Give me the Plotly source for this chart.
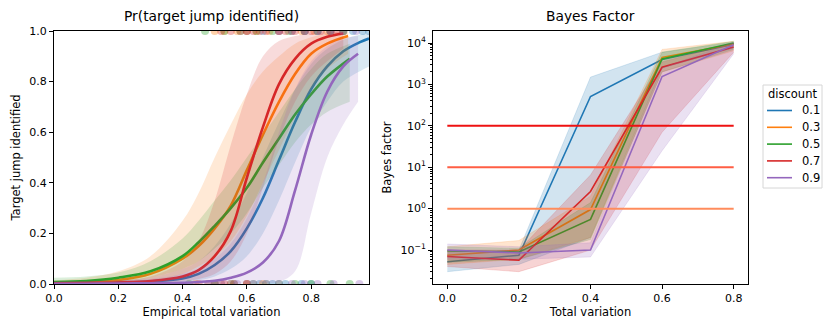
import plotly.graph_objects as go

# ---- data -------------------------------------------------------------
discounts = ["0.1", "0.3", "0.5", "0.7", "0.9"]
colors = ["#1f77b4", "#ff7f0e", "#2ca02c", "#d62728", "#9467bd"]

# left panel: fitted logistic curve + CI band per discount
fit_x_01 = [0, 0.1, 0.2, 0.3, 0.4, 0.45, 0.5, 0.55, 0.6, 0.65, 0.7, 0.75, 0.8, 0.85, 0.9, 0.95, 0.98]
fit_p_01 = [0.003, 0.004, 0.006, 0.01, 0.022, 0.04, 0.075, 0.13, 0.22, 0.34, 0.49, 0.64, 0.77, 0.86, 0.92, 0.955, 0.97]
fit_lo_01 = [0.0, 0.0, 0.001, 0.003, 0.008, 0.015, 0.03, 0.06, 0.11, 0.2, 0.33, 0.48, 0.62, 0.72, 0.8, 0.84, 0.86]
fit_hi_01 = [0.01, 0.012, 0.015, 0.025, 0.06, 0.09, 0.15, 0.24, 0.36, 0.5, 0.64, 0.77, 0.87, 0.93, 0.965, 0.985, 0.99]

fit_x_03 = [0, 0.1, 0.2, 0.3, 0.4, 0.45, 0.5, 0.55, 0.6, 0.65, 0.7, 0.75, 0.8, 0.85, 0.915]
fit_p_03 = [0.005, 0.008, 0.016, 0.04, 0.1, 0.15, 0.22, 0.31, 0.45, 0.59, 0.72, 0.83, 0.91, 0.95, 0.98]
fit_lo_03 = [0.001, 0.002, 0.004, 0.012, 0.04, 0.07, 0.11, 0.17, 0.27, 0.4, 0.53, 0.66, 0.77, 0.85, 0.91]
fit_hi_03 = [0.015, 0.025, 0.05, 0.11, 0.25, 0.36, 0.5, 0.63, 0.75, 0.84, 0.9, 0.95, 0.975, 0.99, 0.995]

fit_x_05 = [0, 0.1, 0.2, 0.3, 0.4, 0.45, 0.5, 0.55, 0.6, 0.65, 0.7, 0.75, 0.8, 0.85, 0.92]
fit_p_05 = [0.008, 0.012, 0.025, 0.05, 0.11, 0.165, 0.23, 0.3, 0.38, 0.48, 0.575, 0.67, 0.75, 0.82, 0.89]
fit_lo_05 = [0.002, 0.004, 0.01, 0.025, 0.06, 0.09, 0.14, 0.2, 0.28, 0.38, 0.47, 0.56, 0.63, 0.68, 0.72]
fit_hi_05 = [0.025, 0.03, 0.045, 0.09, 0.18, 0.25, 0.33, 0.41, 0.5, 0.59, 0.68, 0.77, 0.85, 0.91, 0.95]

fit_x_07 = [0, 0.1, 0.2, 0.3, 0.4, 0.45, 0.5, 0.55, 0.6, 0.65, 0.7, 0.75, 0.8, 0.85, 0.9]
fit_p_07 = [0.003, 0.004, 0.006, 0.012, 0.03, 0.055, 0.11, 0.21, 0.42, 0.62, 0.79, 0.89, 0.95, 0.977, 0.99]
fit_lo_07 = [0.0, 0.0, 0.001, 0.003, 0.01, 0.02, 0.04, 0.09, 0.2, 0.38, 0.57, 0.72, 0.82, 0.88, 0.93]
fit_hi_07 = [0.01, 0.012, 0.015, 0.03, 0.09, 0.17, 0.33, 0.55, 0.75, 0.9, 0.96, 0.98, 0.99, 0.995, 0.998]

fit_x_09 = [0, 0.1, 0.2, 0.3, 0.4, 0.45, 0.5, 0.55, 0.6, 0.65, 0.7, 0.75, 0.8, 0.85, 0.9, 0.946]
fit_p_09 = [0.001, 0.001, 0.002, 0.003, 0.005, 0.008, 0.013, 0.025, 0.045, 0.085, 0.17, 0.37, 0.59, 0.76, 0.86, 0.91]
fit_lo_09 = [0.0, 0.0, 0.0, 0.0, 0.0, 0.0, 0.001, 0.002, 0.003, 0.004, 0.008, 0.05, 0.28, 0.5, 0.63, 0.72]
fit_hi_09 = [0.01, 0.012, 0.015, 0.02, 0.04, 0.06, 0.1, 0.16, 0.26, 0.4, 0.6, 0.77, 0.88, 0.94, 0.97, 0.98]

# observed outcomes (identified = 1, missed = 0), empirical TV of each trial
hit_x_01 = [0.6, 0.65, 0.7, 0.74, 0.78, 0.82, 0.86, 0.9, 0.93, 0.96, 0.98]
miss_x_01 = [0.5, 0.55, 0.6, 0.64, 0.68, 0.72, 0.77, 0.8]
hit_x_03 = [0.5, 0.53, 0.57, 0.6, 0.63, 0.67, 0.7, 0.74, 0.77, 0.81, 0.85, 0.9]
miss_x_03 = [0.44, 0.48, 0.52, 0.55, 0.6, 0.65]
hit_x_05 = [0.47, 0.53, 0.58, 0.63, 0.68, 0.73, 0.78, 0.82, 0.86, 0.9]
miss_x_05 = [0.42, 0.5, 0.56, 0.62, 0.66, 0.7, 0.75, 0.8, 0.86, 0.92]
hit_x_07 = [0.52, 0.55, 0.58, 0.6, 0.62, 0.64, 0.66, 0.7, 0.72, 0.75, 0.78, 0.8, 0.83, 0.86, 0.88]
miss_x_07 = [0.45, 0.5, 0.53, 0.56, 0.6]
hit_x_09 = [0.7, 0.74, 0.78, 0.82, 0.86, 0.9, 0.94]
miss_x_09 = [0.48, 0.52, 0.57, 0.62, 0.66, 0.7, 0.74, 0.78, 0.82, 0.87, 0.95]

# right panel: Bayes factor vs total variation
tv = [0.0, 0.2, 0.4, 0.6, 0.8]
bf_01 = [0.052, 0.075, 510, 4000, 9300]
bf_lo_01 = [0.03, 0.045, 0.2, 2500, 7500]
bf_hi_01 = [0.09, 0.1, 1500, 6000, 10500]
bf_03 = [0.075, 0.1, 0.95, 4500, 9500]
bf_lo_03 = [0.045, 0.06, 0.2, 2000, 6500]
bf_hi_03 = [0.12, 0.17, 2.0, 7000, 11000]
bf_05 = [0.095, 0.09, 0.55, 4100, 10000]
bf_lo_05 = [0.05, 0.06, 0.18, 2000, 7000]
bf_hi_05 = [0.12, 0.11, 1.4, 6000, 11000]
bf_07 = [0.07, 0.057, 2.6, 2600, 8000]
bf_lo_07 = [0.04, 0.03, 0.1, 70, 6000]
bf_hi_07 = [0.1, 0.1, 6.5, 3500, 10000]
bf_09 = [0.1, 0.085, 0.1, 1550, 9100]
bf_lo_09 = [0.06, 0.06, 0.068, 25, 5500]
bf_hi_09 = [0.14, 0.12, 0.15, 2500, 10500]

thresholds = [1, 10, 100]
threshold_colors = ["#ff8c5c", "#ff5e44", "#ee1111"]

fits = [
    (fit_x_01, fit_p_01, fit_lo_01, fit_hi_01, hit_x_01, miss_x_01),
    (fit_x_03, fit_p_03, fit_lo_03, fit_hi_03, hit_x_03, miss_x_03),
    (fit_x_05, fit_p_05, fit_lo_05, fit_hi_05, hit_x_05, miss_x_05),
    (fit_x_07, fit_p_07, fit_lo_07, fit_hi_07, hit_x_07, miss_x_07),
    (fit_x_09, fit_p_09, fit_lo_09, fit_hi_09, hit_x_09, miss_x_09),
]
bfs = [
    (bf_01, bf_lo_01, bf_hi_01),
    (bf_03, bf_lo_03, bf_hi_03),
    (bf_05, bf_lo_05, bf_hi_05),
    (bf_07, bf_lo_07, bf_hi_07),
    (bf_09, bf_lo_09, bf_hi_09),
]


def rgba(hex_color, a):
    h = hex_color.lstrip("#")
    r, g, b = int(h[0:2], 16), int(h[2:4], 16), int(h[4:6], 16)
    return f"rgba({r},{g},{b},{a})"


fig = go.Figure()

# ---- left panel -------------------------------------------------------
for (fx, fp, flo, fhi, hx, mx), c in zip(fits, colors):
    pts_x = hx + mx
    pts_y = [1] * len(hx) + [0] * len(mx)
    fig.add_trace(go.Scatter(
        x=pts_x, y=pts_y, mode="markers", xaxis="x", yaxis="y",
        marker=dict(size=8, color=rgba(c, 0.35), line=dict(width=0)),
        showlegend=False, hoverinfo="skip"))
    fig.add_trace(go.Scatter(
        x=fx, y=flo, mode="lines", xaxis="x", yaxis="y",
        line=dict(width=0, shape="spline", color=rgba(c, 0)),
        showlegend=False, hoverinfo="skip"))
    fig.add_trace(go.Scatter(
        x=fx, y=fhi, mode="lines", xaxis="x", yaxis="y", fill="tonexty",
        fillcolor=rgba(c, 0.17),
        line=dict(width=0, shape="spline", color=rgba(c, 0)),
        showlegend=False, hoverinfo="skip"))
    fig.add_trace(go.Scatter(
        x=fx, y=fp, mode="lines", xaxis="x", yaxis="y",
        line=dict(width=2.6, shape="spline", color=c),
        showlegend=False))

# ---- right panel ------------------------------------------------------
for (bf, lo, hi), c, name in zip(bfs, colors, discounts):
    fig.add_trace(go.Scatter(
        x=tv, y=lo, mode="lines", xaxis="x2", yaxis="y2",
        line=dict(width=0.6, color=rgba(c, 0.25)),
        showlegend=False, hoverinfo="skip"))
    fig.add_trace(go.Scatter(
        x=tv, y=hi, mode="lines", xaxis="x2", yaxis="y2", fill="tonexty",
        fillcolor=rgba(c, 0.2), line=dict(width=0.6, color=rgba(c, 0.25)),
        showlegend=False, hoverinfo="skip"))
    fig.add_trace(go.Scatter(
        x=tv, y=bf, mode="lines", xaxis="x2", yaxis="y2", name=name,
        line=dict(width=1.6, color=c), showlegend=False))

for t, c in zip(thresholds, threshold_colors):
    fig.add_trace(go.Scatter(
        x=[tv[0], tv[-1]], y=[t, t], mode="lines", xaxis="x2", yaxis="y2",
        line=dict(width=2, color=c), showlegend=False, hoverinfo="skip"))

# ---- layout -----------------------------------------------------------
W, H = 830, 332
TICK, LABEL, TITLE = 11, 11.5, 13.8
font = dict(family="DejaVu Sans", size=TICK, color="black")
axis_common = dict(
    showline=True, linecolor="black", linewidth=0.9, mirror=True,
    ticks="outside", ticklen=4, tickcolor="black", tickwidth=0.9,
    showgrid=False, zeroline=False, tickfont=dict(size=TICK),
    title_font=dict(size=LABEL), automargin=False)

log_ticks = [0.1, 1, 10, 100, 1000, 10000]
log_text = ["10<sup>−1</sup>", "10<sup>0</sup>", "10<sup>1</sup>",
            "10<sup>2</sup>", "10<sup>3</sup>", "10<sup>4</sup>"]
minor_log_ticks = [m * d for d in [0.01, 0.1, 1, 10, 100, 1000]
                   for m in range(2, 10)]
lin_ticks = [0, 0.2, 0.4, 0.6, 0.8]
lin_text = ["0.0", "0.2", "0.4", "0.6", "0.8"]

# hand-built legend (matplotlib style box on the right)
shapes = [dict(type="rect", xref="paper", yref="paper",
               x0=763 / W, x1=822 / W, y0=1 - 188 / H, y1=1 - 85 / H,
               line=dict(color="#d6d6d6", width=1), fillcolor="white")]
annotations = [dict(text="discount", x=792.5 / W, y=1 - 94 / H,
                    xref="paper", yref="paper", showarrow=False,
                    font=dict(size=LABEL), xanchor="center", yanchor="middle")]
for i, (name, c) in enumerate(zip(discounts, colors)):
    yy = 1 - (110.5 + 16.8 * i) / H
    shapes.append(dict(type="line", xref="paper", yref="paper",
                       x0=767 / W, x1=792 / W, y0=yy, y1=yy,
                       line=dict(color=c, width=1.6)))
    annotations.append(dict(text=name, x=800 / W, y=yy, xref="paper",
                            yref="paper", showarrow=False,
                            font=dict(size=LABEL), xanchor="left",
                            yanchor="middle"))

annotations += [
    dict(text="Pr(target jump identified)", x=(54 + 369) / 2 / W,
         y=1 - 16 / H, xref="paper", yref="paper", showarrow=False,
         font=dict(size=TITLE), xanchor="center", yanchor="middle"),
    dict(text="Bayes Factor", x=(433 + 748) / 2 / W, y=1 - 16 / H,
         xref="paper", yref="paper", showarrow=False,
         font=dict(size=TITLE), xanchor="center", yanchor="middle"),
]

fig.update_layout(
    width=W, height=H, margin=dict(l=0, r=0, t=0, b=0),
    paper_bgcolor="white", plot_bgcolor="white", font=font,
    showlegend=False,
    xaxis=dict(axis_common, domain=[54 / W, 369 / W], anchor="y",
               range=[0, 0.98], tickvals=lin_ticks, ticktext=lin_text,
               title=dict(text="Empirical total variation", standoff=3)),
    yaxis=dict(axis_common, domain=[48 / H, 301 / H], anchor="x",
               range=[0, 1], tickvals=[0, 0.2, 0.4, 0.6, 0.8, 1.0],
               ticktext=["0.0", "0.2", "0.4", "0.6", "0.8", "1.0"],
               title=dict(text="Target jump identified", standoff=6)),
    xaxis2=dict(axis_common, domain=[433 / W, 748 / W], anchor="y2",
                range=[-0.04, 0.84], tickvals=lin_ticks, ticktext=lin_text,
                title=dict(text="Total variation", standoff=3)),
    yaxis2=dict(axis_common, domain=[48 / H, 301 / H], anchor="x2",
                type="log", range=[-1.82, 4.29],
                tickvals=log_ticks, ticktext=log_text,
                minor=dict(tickmode="array", tickvals=minor_log_ticks,
                           ticks="outside", ticklen=2, tickcolor="black",
                           tickwidth=0.6, showgrid=False),
                title=dict(text="Bayes factor", standoff=6)),
    shapes=shapes,
    annotations=annotations,
)

# the page body has a default 8px margin; drop it so the figure fills the window
fig.write_html("out.html", config={"displayModeBar": False},
               post_script="document.body.style.margin='0';")
